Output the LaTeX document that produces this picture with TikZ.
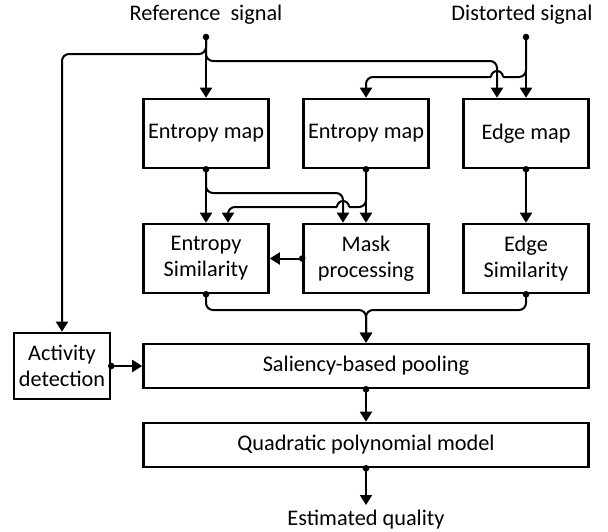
\documentclass[tikz,border=0pt]{standalone}
\usepackage{fontspec}
\setmainfont{Carlito}
\usetikzlibrary{arrows.meta}
\newcommand\dfont{\fontsize{22.3}{26}\selectfont}
\begin{document}
\begin{tikzpicture}[x=1pt,y=-1pt,font=\dfont,
  box/.style={draw, line width=2.6pt, minimum width=125pt, minimum height=69pt, inner sep=0pt, align=center},
  wide/.style={minimum width=445pt, minimum height=44pt},
  conn/.style={line width=2pt, rounded corners=7pt},
  arr/.style={-{Triangle[length=10pt,width=12pt]}},
  hop/.style={line width=2pt}
]
\useasboundingbox (0,0) rectangle (608,531);

% signals
\node (reflbl) at (206,15) {Reference\ \ signal};
\node (distlbl) at (522,15) {Distorted signal};
\coordinate (refdot) at (206,37);
\coordinate (distdot) at (526,37);

% boxes
\node[box] (em1) at (206,133.5) {Entropy map};
\node[box] (em2) at (366,133.5) {Entropy map};
\node[box] (edm) at (526,133.5) {Edge map};
\node[box] (es) at (206,258.5) {Entropy\\Similarity};
\node[box] (mp) at (366,258.5) {Mask\\processing};
\node[box] (eds) at (526,258.5) {Edge\\Similarity};
\node[box,wide] (sal) at (366,366) {Saliency-based pooling};
\node[box,wide] (quad) at (366,445) {Quadratic polynomial model};
\node[box, minimum width=96pt, minimum height=66pt] (act) at (62,366) {Activity\\detection};
\node (estlbl) at (366,520) {Estimated quality};
\coordinate (esttip) at (366,505);

% helper levels and points
\coordinate (lvlA) at (0,54);
\coordinate (lvlB) at (0,61);
\coordinate (lvlD) at (0,193);
\coordinate (lvlF) at (0,310);
\coordinate (edmL) at ([xshift=-29pt]edm.north);
\coordinate (mpL) at ([xshift=-23pt]mp.north);
\coordinate (esR) at ([xshift=22pt]es.north);
\coordinate (hopA) at (503,77);
\coordinate (hopB) at (491,77);
\coordinate (hopC) at (349,207);
\coordinate (hopD) at (337,207);

% reference signal
\draw[conn,arr] (refdot) -- (em1.north);
\draw[conn,arr] (refdot) |- (act.north |- lvlA) -- (act.north);
\draw[conn,arr] (refdot) |- (edmL |- lvlB) -- (edmL);

% distorted signal
\draw[conn,arr] (distdot) -- (edm.north);
\draw[conn] (distdot) |- (hopA);
\draw[hop] (hopA) arc[start angle=0, end angle=180, radius=6pt];
\draw[conn,arr] (hopB) -| (em2.north);

% second row
\draw[conn,arr] (em1.south) -- (es.north);
\draw[conn,arr] (em1.south) |- (mpL |- lvlD) -- (mpL);
\draw[conn,arr] (em2.south) -- (mp.north);
\draw[conn] (em2.south) |- (hopC);
\draw[hop] (hopC) arc[start angle=0, end angle=180, radius=6pt];
\draw[conn,arr] (hopD) -| (esR);
\draw[conn,arr] (edm.south) -- (eds.north);
\draw[conn,arr] (mp.west) -- (es.east);

% pooling
\draw[conn,arr] (es.south) |- (sal.north |- lvlF) -- (sal.north);
\draw[conn,arr] (eds.south) |- (sal.north |- lvlF) -- (sal.north);
\draw[conn,arr] (act.east) -- (sal.west);
\draw[conn,arr] (sal.south) -- (quad.north);
\draw[conn,arr] (quad.south) -- (esttip);

% dots
\foreach \p in {refdot, distdot, em1.south, em2.south, edm.south, es.south, eds.south, mp.west, act.east, sal.south, quad.south}
  \fill (\p) circle (3.3pt);
\end{tikzpicture}
\end{document}
